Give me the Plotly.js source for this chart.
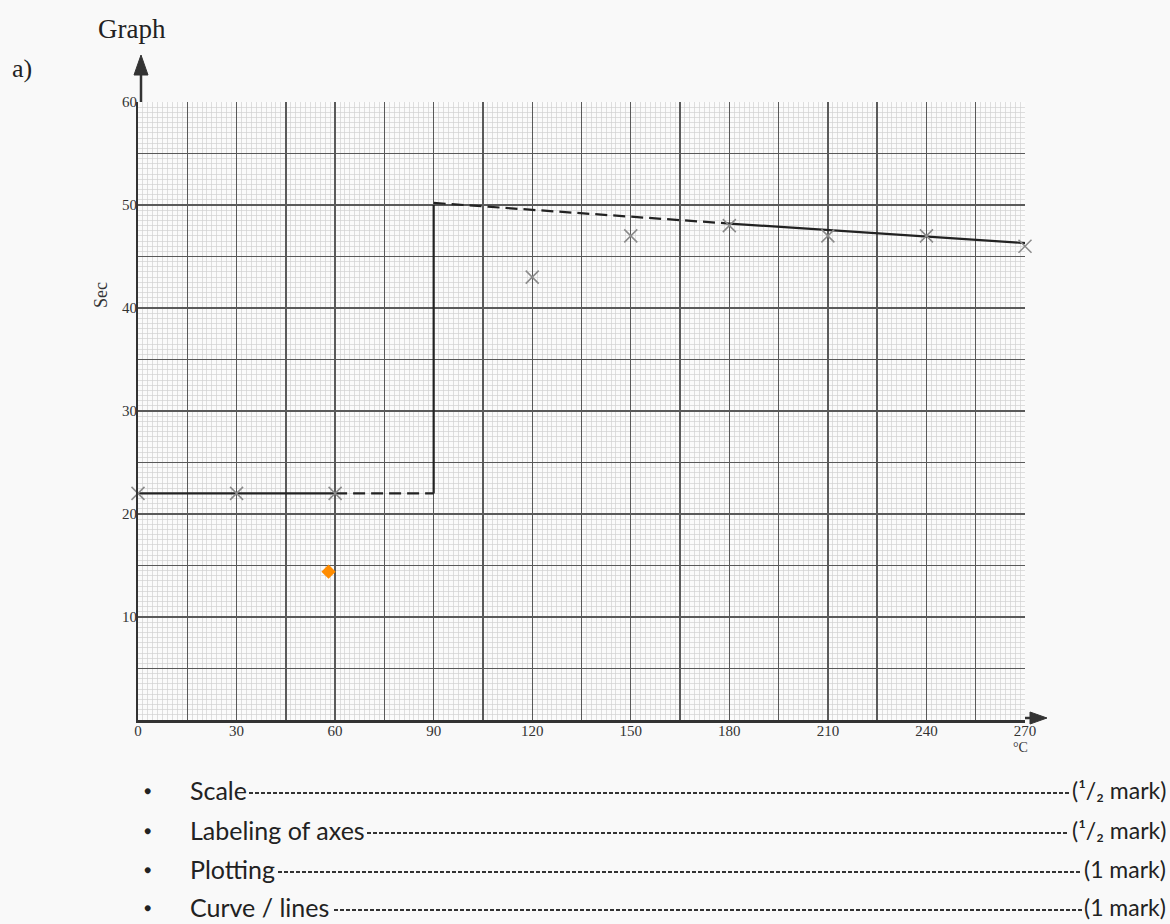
<!DOCTYPE html>
<html>
<head>
<meta charset="utf-8">
<script src="https://cdn.plot.ly/plotly-3.0.1.min.js"></script>
<style>
html,body{margin:0;padding:0;background:#f9f9f9;}
#chart{width:1170px;height:924px;}
</style>
</head>
<body>
<div id="chart"></div>
<script>
// Plotted readings (temperature in °C, time in seconds)
const tempC = [0, 30, 60, 120, 150, 180, 210, 240, 270];
const timeSec = [22, 22, 22, 43, 47, 48, 47, 47, 46];

// Drawn lines: solid parts and dashed parts (null = break)
const solidX = [0, 60, null, 90, 90, null, 180, 270];
const solidY = [22, 22, null, 22, 50, null, 48.2, 46.3];
const dashX = [60, 90, null, 90, 180];
const dashY = [22, 22, null, 50.2, 48.2];

// Extra orange mark
const markX = [58];
const markY = [14.4];

// Axis tick labels
const xTickVals = [0, 30, 60, 90, 120, 150, 180, 210, 240, 270];
const xTickText = ['0', '30', '60', '90', '120', '150', '180', '210', '240', '270'];
const yTickVals = [10, 20, 30, 40, 50, 60];
const yTickText = ['10', '20', '30', '40', '50', '60'];

// Marking scheme
const criteria = ['Scale', 'Labeling of axes', 'Plotting', 'Curve / lines'];
const marks = ['(¹/₂ mark)', '(¹/₂ mark)', '(1 mark)', '(1 mark)'];

const L = 138, R = 1025, T = 102, B = 720;
const W = R - L, H = B - T;
const px = v => (v - L) / W;
const py = v => (B - v) / H;

const serif = 'Liberation Serif, DejaVu Serif, serif';
const sans = 'Lato, Open Sans, DejaVu Sans, sans-serif';

const traces = [
  {x: solidX, y: solidY, mode: 'lines', line: {color: '#222', width: 2.2}, hoverinfo: 'skip', showlegend: false},
  {x: dashX, y: dashY, mode: 'lines', line: {color: '#222', width: 2.2, dash: '12px,6px'}, hoverinfo: 'skip', showlegend: false},
  {x: tempC, y: timeSec, mode: 'markers', marker: {symbol: 'x-thin-open', size: 13, color: '#8a8a8a', line: {width: 1.5, color: '#8a8a8a'}}, showlegend: false, cliponaxis: false},
  {x: markX, y: markY, mode: 'markers', marker: {symbol: 'diamond', size: 11, color: '#ff8c00'}, showlegend: false},
  {x: [], y: [], xaxis: 'x2', yaxis: 'y2', mode: 'markers', showlegend: false, hoverinfo: 'skip'}
];

const annotations = [
  {xref: 'paper', yref: 'paper', x: px(96), y: py(29), xanchor: 'left', yanchor: 'middle', text: 'Graph', showarrow: false, font: {family: serif, size: 27, color: '#222'}},
  {xref: 'paper', yref: 'paper', x: px(10), y: py(68), xanchor: 'left', yanchor: 'middle', text: 'a)', showarrow: false, font: {family: serif, size: 26, color: '#222'}},
  {xref: 'paper', yref: 'paper', x: px(1020), y: py(748), xanchor: 'center', yanchor: 'middle', text: '°C', showarrow: false, font: {family: serif, size: 14, color: '#333'}},
  {xref: 'paper', yref: 'paper', x: px(101), y: py(295), xanchor: 'center', yanchor: 'middle', textangle: -90, text: 'Sec', showarrow: false, font: {family: serif, size: 18, color: '#333'}}
];

const shapes = [
  // axis arrow shafts and heads
  {type: 'line', xref: 'paper', yref: 'paper', x0: px(141), x1: px(141), y0: py(102), y1: py(68), line: {color: '#333', width: 2.5}},
  {type: 'path', xref: 'paper', yref: 'paper', path: `M ${px(141)} ${py(55)} L ${px(134)} ${py(75)} L ${px(148)} ${py(75)} Z`, fillcolor: '#333', line: {color: '#333', width: 1}},
  {type: 'line', xref: 'paper', yref: 'paper', x0: px(1025), x1: px(1034), y0: py(718), y1: py(718), line: {color: '#333', width: 2.5}},
  {type: 'path', xref: 'paper', yref: 'paper', path: `M ${px(1047)} ${py(718)} L ${px(1030)} ${py(712)} L ${px(1030)} ${py(724)} Z`, fillcolor: '#333', line: {color: '#333', width: 1}}
];

const rowsY = [790, 830, 869, 907];
const leaderStart = [249, 367, 278, 334];
const leaderEnd = [1069, 1069, 1082, 1082];
criteria.forEach((c, i) => {
  annotations.push({xref: 'paper', yref: 'paper', x: px(142), y: py(rowsY[i]), xanchor: 'left', yanchor: 'middle', text: '●', showarrow: false, font: {family: sans, size: 12, color: '#222'}});
  annotations.push({xref: 'paper', yref: 'paper', x: px(188), y: py(rowsY[i]), xanchor: 'left', yanchor: 'middle', text: c, showarrow: false, font: {family: sans, size: 25, color: '#222'}});
  annotations.push({xref: 'paper', yref: 'paper', x: px(1168), y: py(rowsY[i]), xanchor: 'right', yanchor: 'middle', text: marks[i], showarrow: false, font: {family: sans, size: 23, color: '#222'}});
  shapes.push({type: 'line', xref: 'paper', yref: 'paper', x0: px(leaderStart[i]), x1: px(leaderEnd[i]), y0: py(rowsY[i] + 3), y1: py(rowsY[i] + 3), line: {color: '#333', width: 2, dash: '4px,2px'}});
});

const layout = {
  width: 1170, height: 924,
  margin: {l: L, r: 1170 - R, t: T, b: 924 - B},
  paper_bgcolor: '#f9f9f9',
  plot_bgcolor: '#fbfbfb',
  showlegend: false,
  xaxis: {
    range: [0, 270], dtick: 15, tick0: 0, showticklabels: false,
    showgrid: true, gridcolor: '#5a5a5a', gridwidth: 1.4,
    minor: {dtick: 1.5, showgrid: true, gridcolor: '#d2d2d2', gridwidth: 0.7},
    showline: true, linecolor: '#333', linewidth: 2.5, zeroline: false,
    ticks: '', fixedrange: true
  },
  yaxis: {
    range: [0, 60], dtick: 5, tick0: 0, showticklabels: false,
    showgrid: true, gridcolor: '#5a5a5a', gridwidth: 1.4,
    minor: {dtick: 0.5, showgrid: true, gridcolor: '#d2d2d2', gridwidth: 0.7},
    showline: true, linecolor: '#333', linewidth: 2.5, zeroline: false,
    ticks: '', fixedrange: true
  },
  xaxis2: {
    overlaying: 'x', matches: 'x', anchor: 'y2', side: 'bottom', range: [0, 270],
    tickmode: 'array', tickvals: xTickVals, ticktext: xTickText,
    showgrid: false, showline: false, zeroline: false, ticks: '',
    tickfont: {family: serif, size: 15, color: '#333'}, fixedrange: true
  },
  yaxis2: {
    overlaying: 'y', matches: 'y', anchor: 'x2', side: 'left', range: [0, 60],
    tickmode: 'array', tickvals: yTickVals, ticktext: yTickText,
    showgrid: false, showline: false, zeroline: false, ticks: '',
    tickfont: {family: serif, size: 15, color: '#333'}, fixedrange: true
  },
  annotations: annotations,
  shapes: shapes
};

Plotly.newPlot('chart', traces, layout, {displayModeBar: false, staticPlot: true});
</script>
</body>
</html>
